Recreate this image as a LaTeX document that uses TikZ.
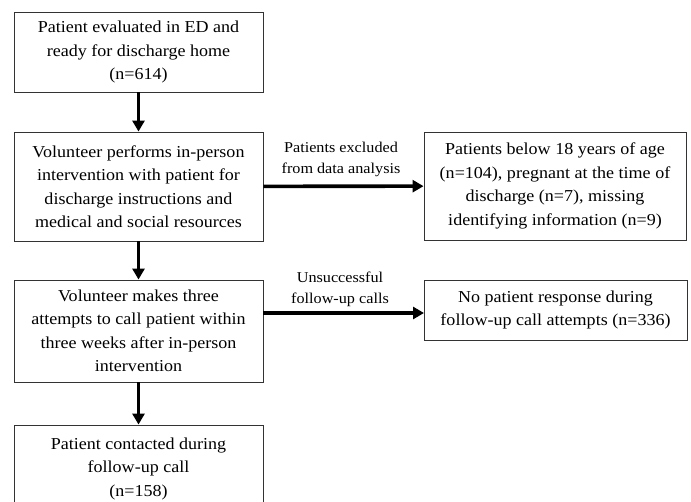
\documentclass[tikz,border=0pt]{standalone}
\usepackage{fontspec}
\setmainfont{Liberation Serif}[FakeStretch=1.08]
\usetikzlibrary{arrows.meta}
\begin{document}
\begin{tikzpicture}[x=1pt,y=-1pt,
  box/.style={draw=black!80,line width=0.9pt,inner sep=0pt,align=center,
    font=\fontsize{16.7}{23.5}\selectfont},
  lbl/.style={align=center,font=\fontsize{15}{20.5}\selectfont,inner sep=0pt},
  arr/.style={line width=3.6pt,-{Triangle[length=11pt,width=12pt]}}]
\useasboundingbox (0,0) rectangle (691,502);
\node[box,minimum width=249pt,minimum height=80pt] (b1) at (138.5,52)
  {Patient evaluated in ED and\\ready for discharge home\\(n=614)};
\node[box,minimum width=249pt,minimum height=109pt] (b2) at (138.5,186.5)
  {Volunteer performs in-person\\intervention with patient for\\discharge instructions and\\medical and social resources};
\node[box,minimum width=262pt,minimum height=108pt] (b3) at (555,186)
  {Patients below 18 years of age\\(n=104), pregnant at the time of\\discharge (n=7), missing\\identifying information (n=9)};
\node[box,minimum width=249pt,minimum height=102pt] (b4) at (138.5,331)
  {Volunteer makes three\\attempts to call patient within\\three weeks after in-person\\intervention};
\node[box,minimum width=263pt,minimum height=60pt] (b5) at (555.5,310)
  {No patient response during\\follow-up call attempts (n=336)};
\node[box,minimum width=249pt,minimum height=84pt,text depth=0pt] (b6) at (138.5,467)
  {Patient contacted during\\follow-up call\\(n=158)};
\coordinate (a4) at (263,313);
\coordinate (a5) at (424,313);
\draw[arr] (b1) -- (b2);
\draw[arr] (b2) -- (b3);
\draw[arr] (b2) -- (b4);
\draw[arr] (b4) -- (b6);
\draw[arr] (a4) -- (a5);
\node[lbl] (l1) at (341,159.5) {Patients excluded\\from data analysis};
\node[lbl] (l2) at (340,289.5) {Unsuccessful\\follow-up calls};
\end{tikzpicture}
\end{document}
